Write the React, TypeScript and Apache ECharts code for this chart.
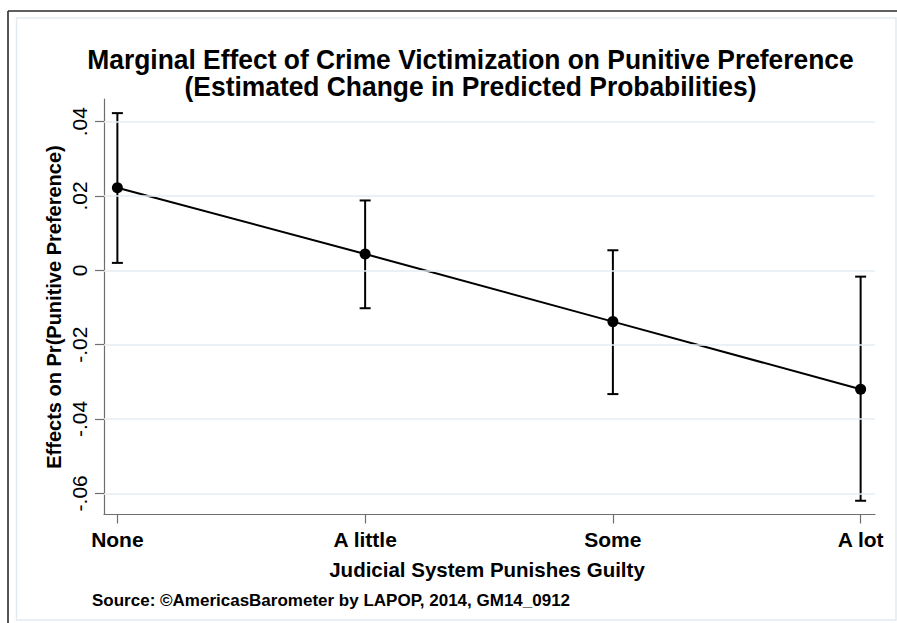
import React, { useEffect, useRef } from "react";
import * as echarts from "echarts";

const categories = ["None", "A little", "Some", "A lot"];
const estimates = [0.0222, 0.0044, -0.0138, -0.032];
const lowerCI = [0.002, -0.0102, -0.0333, -0.062];
const upperCI = [0.0423, 0.0188, 0.0054, -0.0017];
const yTicks = [-0.06, -0.04, -0.02, 0, 0.02, 0.04];
const xTicks = [1, 2, 3, 4];

const titleText =
  "Marginal Effect of Crime Victimization on Punitive Preference\n(Estimated Change in Predicted Probabilities)";
const yName = "Effects on Pr(Punitive Preference)";
const xName = "Judicial System Punishes Guilty";
const sourceText = "Source: \u00A9AmericasBarometer by LAPOP, 2014, GM14_0912";

const FONT = '"Liberation Sans", Arial, sans-serif';

function fmtY(v: number): string {
  if (Math.abs(v) < 1e-9) return "0";
  const s = Math.abs(v).toFixed(2).replace(/^0/, "");
  return (v < 0 ? "-" : "") + s;
}

export default function App() {
  const ref = useRef<HTMLDivElement>(null);
  useEffect(() => {
    document.body.style.margin = "0";
    if (!ref.current) return;
    const chart = echarts.init(ref.current, null, { renderer: "svg" });
    const option: any = {
      animation: false,
      backgroundColor: "#ffffff",
      grid: { left: 104, top: 99, right: 22, bottom: 108.5, containLabel: false },
      xAxis: {
        type: "value",
        min: 0.946,
        max: 4.058,
        splitLine: { show: false },
        axisLine: { show: true, onZero: false, lineStyle: { color: "#6e6e6e", width: 1.2 } },
        axisTick: { show: true, customValues: xTicks, length: 9, lineStyle: { color: "#6e6e6e", width: 1.2 } },
        axisLabel: {
          customValues: xTicks,
          formatter: (v: number) => categories[Math.round(v) - 1] ?? "",
          color: "#000",
          fontFamily: FONT,
          fontWeight: "bold",
          fontSize: 21,
          margin: 14,
        },
      },
      yAxis: {
        type: "value",
        min: -0.0657,
        max: 0.0461,
        splitLine: { show: false },
        axisLine: { show: true, onZero: false, lineStyle: { color: "#6e6e6e", width: 1.2 } },
        axisTick: { show: true, customValues: yTicks, length: 9, lineStyle: { color: "#6e6e6e", width: 1.2 } },
        axisLabel: {
          customValues: yTicks,
          formatter: (v: number) => fmtY(v),
          rotate: 90,
          color: "#000",
          fontFamily: FONT,
          fontSize: 21,
          margin: 14,
        },
      },
      series: [
        {
          type: "line",
          data: [],
          silent: true,
          z: 1,
          markLine: {
            silent: true,
            symbol: ["none", "none"],
            label: { show: false },
            lineStyle: { color: "#e6edf2", width: 1.5, type: "solid" },
            data: yTicks.map((v) => ({ yAxis: v })),
          },
        },
        {
          type: "custom",
          z: 3,
          data: categories.map((_, i) => [i + 1, lowerCI[i], upperCI[i]]),
          encode: { x: 0, y: [1, 2] },
          renderItem: (params: any, api: any) => {
            const x = api.value(0);
            const lo = api.coord([x, api.value(1)]);
            const hi = api.coord([x, api.value(2)]);
            const hw = 5.5;
            const st = { stroke: "#000", lineWidth: 2 };
            return {
              type: "group",
              children: [
                { type: "line", shape: { x1: lo[0], y1: lo[1], x2: hi[0], y2: hi[1] }, style: st },
                { type: "line", shape: { x1: lo[0] - hw, y1: lo[1], x2: lo[0] + hw, y2: lo[1] }, style: st },
                { type: "line", shape: { x1: hi[0] - hw, y1: hi[1], x2: hi[0] + hw, y2: hi[1] }, style: st },
              ],
            };
          },
        },
        {
          type: "line",
          z: 4,
          data: estimates.map((v, i) => [i + 1, v]),
          symbol: "circle",
          symbolSize: 11,
          itemStyle: { color: "#000" },
          lineStyle: { color: "#000", width: 2 },
        },
      ],
      graphic: [
        {
          type: "rect",
          z: -10,
          shape: { x: 16.5, y: 18, width: 879.5, height: 602 },
          style: { fill: "#fff", stroke: "#e3eaef", lineWidth: 1.5 },
          silent: true,
        },
        {
          type: "line",
          shape: { x1: 8, y1: 11, x2: 897, y2: 11 },
          style: { stroke: "#2a2a2a", lineWidth: 1.6 },
          silent: true,
        },
        {
          type: "line",
          shape: { x1: 8, y1: 11, x2: 8, y2: 623 },
          style: { stroke: "#2a2a2a", lineWidth: 1.6 },
          silent: true,
        },
        {
          type: "text",
          x: 470.5,
          y: 73.5,
          scaleX: 0.978,
          style: {
            text: titleText,
            font: `bold 27px ${FONT}`,
            lineHeight: 27,
            fill: "#000",
            align: "center",
            verticalAlign: "middle",
          },
        },
        {
          type: "text",
          x: 54,
          y: 307,
          rotation: Math.PI / 2,
          style: { text: yName, font: `bold 20px ${FONT}`, fill: "#000", align: "center", verticalAlign: "middle" },
        },
        {
          type: "text",
          x: 487,
          y: 569,
          style: { text: xName, font: `bold 20.5px ${FONT}`, fill: "#000", align: "center", verticalAlign: "middle" },
        },
        {
          type: "text",
          x: 92,
          y: 600,
          style: { text: sourceText, font: `bold 17px ${FONT}`, fill: "#000", align: "left", verticalAlign: "middle" },
        },
      ],
    };
    chart.setOption(option);
    return () => chart.dispose();
  }, []);
  return <div ref={ref} style={{ width: 897, height: 623, position: "absolute", left: 0, top: 0 }} />;
}
